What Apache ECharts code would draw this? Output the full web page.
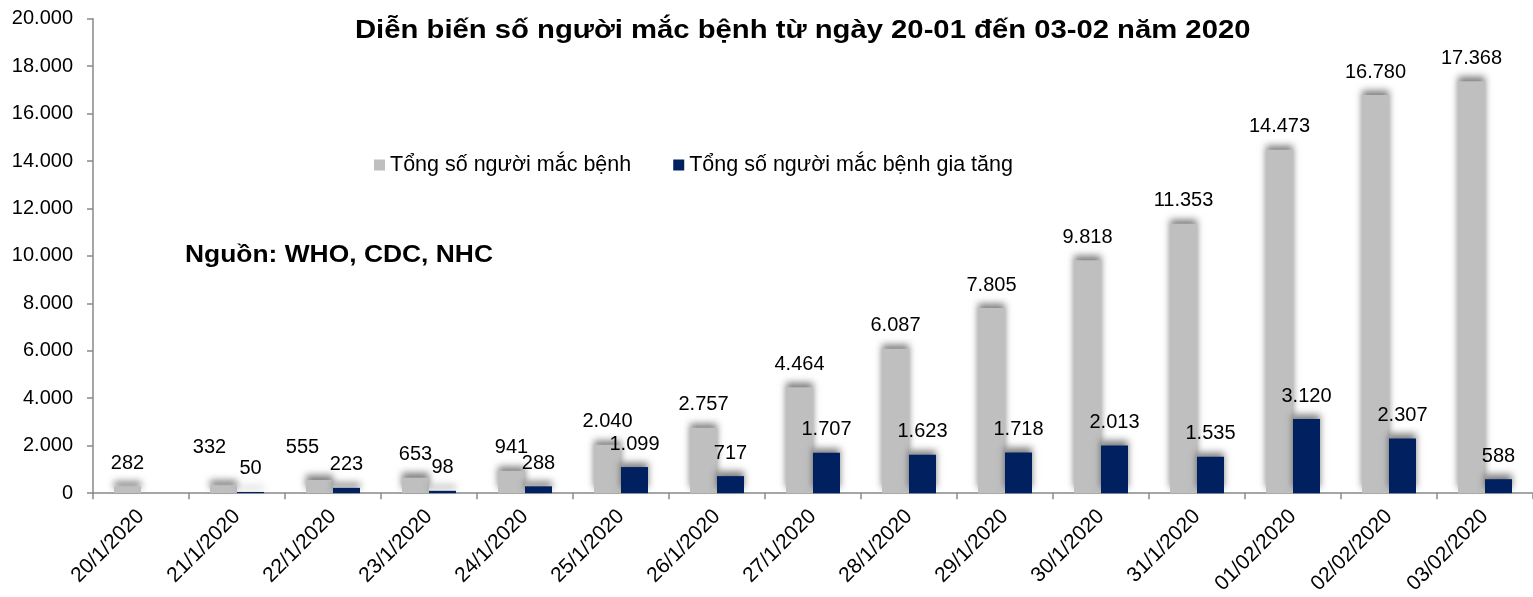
<!DOCTYPE html>
<html style="height: 100%">
<head>
<meta charset="utf-8">
<script src="https://cdn.jsdelivr.net/npm/echarts@6/dist/echarts.min.js"></script>
</head>
<body style="height: 100%; margin: 0; background: #fff">
<div id="container" style="width: 1533px; height: 597px"></div>
<script type="text/javascript">
// ngày
var categories = ['20/1/2020', '21/1/2020', '22/1/2020', '23/1/2020', '24/1/2020', '25/1/2020', '26/1/2020',
  '27/1/2020', '28/1/2020', '29/1/2020', '30/1/2020', '31/1/2020', '01/02/2020', '02/02/2020', '03/02/2020'];
// Tổng số người mắc bệnh
var totalCases = [282, 332, 555, 653, 941, 2040, 2757, 4464, 6087, 7805, 9818, 11353, 14473, 16780, 17368];
// Tổng số người mắc bệnh gia tăng (20/1 không có số liệu)
var newCases = ['-', 50, 223, 98, 288, 1099, 717, 1707, 1623, 1718, 2013, 1535, 3120, 2307, 588];

var seriesNames = ['Tổng số người mắc bệnh', 'Tổng số người mắc bệnh gia tăng'];
var titleText = 'Diễn biến số người mắc bệnh từ ngày 20-01 đến 03-02 năm 2020';
var sourceText = 'Nguồn: WHO, CDC, NHC';

var FONT = '"Liberation Sans", Arial, sans-serif';

function fmt(v) {
  return String(v).replace(/\B(?=(\d{3})+(?!\d))/g, '.');
}

// a couple of labels were moved by hand in the original
var grayLabelShift = { 1: [-14, -15], 2: [-17, -9] };

var grayData = totalCases.map(function (v, i) {
  var item = { value: v };
  if (grayLabelShift[i]) item.label = { offset: grayLabelShift[i] };
  return item;
});

var barShadow = {
  shadowColor: 'rgba(0,0,0,0.5)',
  shadowBlur: 7,
  shadowOffsetY: -5
};

var dom = document.getElementById('container');
var myChart = echarts.init(dom);

var option = {
  animation: false,
  textStyle: { fontFamily: FONT },
  legend: {
    data: seriesNames,
    left: 369,
    top: 149,
    itemWidth: 11,
    itemHeight: 11,
    itemGap: 42,
    icon: 'rect',
    textStyle: { fontFamily: FONT, fontSize: 21.5, color: '#000' }
  },
  graphic: [
    {
      type: 'text',
      x: 355,
      y: 19,
      scaleX: 1.17,
      style: { text: titleText, font: 'bold 25px ' + FONT, fill: '#000' }
    },
    {
      type: 'text',
      x: 185,
      y: 243,
      scaleX: 1.1,
      style: { text: sourceText, font: 'bold 24px ' + FONT, fill: '#000' }
    }
  ],
  grid: { left: 93, right: 0, top: 18.7, bottom: 103, containLabel: false },
  xAxis: {
    type: 'category',
    data: categories,
    boundaryGap: true,
    axisLine: { show: true, lineStyle: { color: '#898989', width: 1.5 } },
    axisTick: { show: true, length: 6, lineStyle: { color: '#898989', width: 1.5 } },
    axisLabel: { rotate: 45, margin: 20, fontSize: 21, color: '#000', fontFamily: FONT, interval: 0 }
  },
  yAxis: {
    type: 'value',
    min: 0,
    max: 20000,
    interval: 2000,
    splitLine: { show: false },
    axisLine: { show: true, lineStyle: { color: '#898989', width: 1.5 } },
    axisTick: { show: true, length: 6, lineStyle: { color: '#898989', width: 1.5 } },
    axisLabel: { margin: 20, fontSize: 20, color: '#000', fontFamily: FONT, formatter: fmt }
  },
  series: [
    {
      name: seriesNames[0],
      type: 'bar',
      data: grayData,
      barWidth: 27,
      barGap: '0%',
      itemStyle: Object.assign({ color: '#BFBFBF' }, barShadow),
      label: {
        show: true, position: 'top', distance: 13, fontSize: 20, color: '#000', fontFamily: FONT,
        formatter: function (p) { return fmt(p.value); }
      }
    },
    {
      name: seriesNames[1],
      type: 'bar',
      data: newCases,
      barWidth: 27,
      barGap: '0%',
      itemStyle: Object.assign({ color: '#002060' }, barShadow),
      label: {
        show: true, position: 'top', distance: 13, fontSize: 20, color: '#000', fontFamily: FONT,
        formatter: function (p) { return fmt(p.value); }
      }
    }
  ]
};

myChart.setOption(option);
</script>
</body>
</html>
